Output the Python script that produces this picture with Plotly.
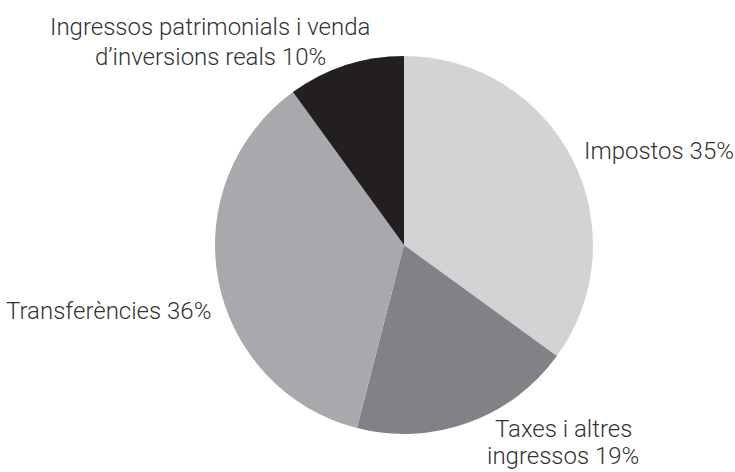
import plotly.graph_objects as go

# Revenue breakdown (percent)
labels = [
    "Impostos",
    "Taxes i altres<br>ingressos",
    "Transferències",
    "Ingressos patrimonials i venda<br>d’inversions reals",
]
values = [35, 19, 36, 10]
colors = ["#d1d3d4", "#808285", "#a7a9ac", "#231f20"]

W, H = 735, 472


def px(x):
    return x / W


def py(y):
    return 1 - y / H


# Pie centre and radius in pixels
cx, cy, r = 404, 245, 189

fig = go.Figure(
    go.Pie(
        labels=labels,
        values=values,
        sort=False,
        direction="clockwise",
        rotation=0,
        marker=dict(colors=colors, line=dict(width=0)),
        textinfo="none",
        hoverinfo="label+percent",
        showlegend=False,
        domain=dict(x=[px(cx - r), px(cx + r)], y=[py(cy + r), py(cy - r)]),
    )
)

# Label placement per slice: (x, first baseline y, xanchor)
label_pos = [
    (582, 159, "left"),
    (563, 437, "center"),
    (213, 319, "right"),
    (210, 35, "center"),
]
line_gap = 30
font = dict(family="Roboto, Liberation Sans, Arial, sans-serif", size=24,
            color="#333333", weight=300)

for lab, val, (x, yb, xa) in zip(labels, values, label_pos):
    lines = lab.split("<br>")
    lines[-1] = f"{lines[-1]} {val}%"
    for i, line in enumerate(lines):
        yc = yb + i * line_gap - 8
        if yc + 16 > H:
            # keep the text box inside the page at the bottom edge
            y, ya = 0, "bottom"
        else:
            y, ya = py(yc), "middle"
        fig.add_annotation(
            x=px(x),
            y=y,
            xref="paper",
            yref="paper",
            text=line,
            showarrow=False,
            xanchor=xa,
            yanchor=ya,
            font=font,
        )

fig.update_layout(
    width=W,
    height=H,
    margin=dict(l=0, r=0, t=0, b=0),
    paper_bgcolor="white",
    plot_bgcolor="white",
)

fig.write_html("out.html")
